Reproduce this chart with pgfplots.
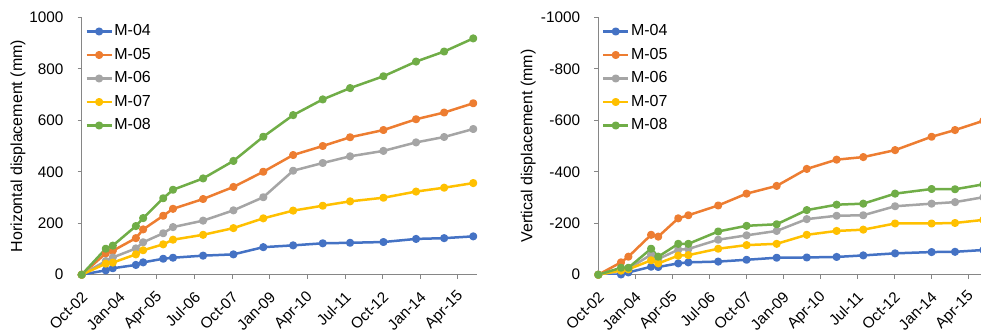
\documentclass[border=0pt]{standalone}
\usepackage{fontspec}
\setmainfont{Liberation Sans}
\usepackage{pgfplots}
\pgfplotsset{compat=1.18}
\definecolor{cA}{HTML}{4472C4}
\definecolor{cB}{HTML}{ED7D31}
\definecolor{cC}{HTML}{A5A5A5}
\definecolor{cD}{HTML}{FFC000}
\definecolor{cE}{HTML}{70AD47}
\definecolor{axgray}{HTML}{868686}
\pgfplotsset{
  xl/.style={
    scale only axis,
    axis x line=bottom, axis y line=left,
    axis line style={-, draw=axgray, line width=1pt},
    tick style={draw=axgray, line width=1pt},
    tick align=outside, major tick length=4pt,
    tick label style={font=\fontsize{15.3}{18}\selectfont},
    xmin=0, xmax=157.6,
    xtick={0,15,...,150},
    xticklabels={Oct-02,Jan-04,Apr-05,Jul-06,Oct-07,Jan-09,Apr-10,Jul-11,Oct-12,Jan-14,Apr-15},
    xticklabel style={shift={(3pt,-15.5pt)}, rotate=45, anchor=east, inner sep=0pt},
    yticklabel style={anchor=east, inner sep=0pt, xshift=-14pt},
    legend style={draw=none, fill=none, at={(axis description cs:0,1)}, anchor=north west,
      xshift=3.5pt, yshift=-6.5pt, inner xsep=0pt, inner ysep=0pt, row sep=8.5pt,
      cells={anchor=west}, nodes={inner xsep=1.5pt, inner ysep=0pt, text height=11.5pt, text depth=3.5pt}},
    legend image code/.code={\draw[##1, mark repeat=2, mark phase=2] plot coordinates {(0pt,0pt)(12.5pt,0pt)(25pt,0pt)};},
    every axis plot/.append style={line width=2.5pt, line join=round, mark=*, mark size=2.8pt, mark options={solid}},
  }
}
\begin{document}
\fontsize{16}{19}\selectfont
\begin{tikzpicture}
\useasboundingbox (0,0) rectangle (981pt,333pt);
\begin{axis}[xl,
  at={(81.7pt,58.3pt)}, anchor=south west,
  width=395.3pt, height=257.4pt,
  ymin=0, ymax=1000,
  ytick={0,200,400,600,800,1000},
  yticklabels={0,200,400,600,800,1000},
  ylabel={Horizontal displacement (mm)},
  every axis y label/.style={at={(axis description cs:-0.161,0.5)}, rotate=90, anchor=center},
]
\addplot[cA, mark options={fill=cA}] coordinates {(0,0)(9.6,17)(12.4,25)(21.6,38)(24.5,48)(32.5,62)(36.4,66)(48.4,74)(60.5,79)(72.4,107)(84.3,114)(96.1,122)(107,124)(120.3,127)(133.3,139)(144.5,142)(156.1,149)};
\addlegendentry{M-04}
\addplot[cB, mark options={fill=cB}] coordinates {(0,0)(9.6,83)(12.4,93)(21.6,142)(24.5,176)(32.5,229)(36.4,256)(48.4,294)(60.5,341)(72.4,400)(84.3,465)(96.1,500)(107,534)(120.3,562)(133.3,604)(144.5,630)(156.1,666)};
\addlegendentry{M-05}
\addplot[cC, mark options={fill=cC}] coordinates {(0,0)(9.6,53)(12.4,67)(21.6,102)(24.5,126)(32.5,161)(36.4,185)(48.4,210)(60.5,250)(72.4,301)(84.3,404)(96.1,434)(107,460)(120.3,481)(133.3,514)(144.5,535)(156.1,566)};
\addlegendentry{M-06}
\addplot[cD, mark options={fill=cD}] coordinates {(0,0)(9.6,43)(12.4,47)(21.6,79)(24.5,95)(32.5,118)(36.4,136)(48.4,155)(60.5,181)(72.4,219)(84.3,249)(96.1,268)(107,285)(120.3,299)(133.3,323)(144.5,338)(156.1,356)};
\addlegendentry{M-07}
\addplot[cE, mark options={fill=cE}] coordinates {(0,0)(9.6,101)(12.4,113)(21.6,189)(24.5,220)(32.5,297)(36.4,330)(48.4,374)(60.5,442)(72.4,536)(84.3,620)(96.1,681)(107,725)(120.3,771)(133.3,828)(144.5,867)(156.1,918)};
\addlegendentry{M-08}
\end{axis}
\begin{axis}[xl,
  at={(598.3pt,58.3pt)}, anchor=south west,
  width=388.8pt, height=257.4pt,
  y dir=reverse,
  ymin=-1000, ymax=0,
  ytick={-1000,-800,-600,-400,-200,0},
  yticklabels={-1000,-800,-600,-400,-200,0},
  ylabel={Vertical displacement (mm)},
  every axis y label/.style={at={(axis description cs:-0.180,0.5)}, rotate=90, anchor=center},
]
\addplot[cA, mark options={fill=cA}] coordinates {(0,0)(9.2,-1)(12.2,-9)(21.4,-31)(24.3,-30)(32.4,-44)(36.5,-48)(48.6,-51)(60.1,-58)(72.3,-66)(84.5,-67)(96.6,-69)(107.4,-75)(120.3,-83)(135.1,-88)(144.6,-89)(156.1,-96)};
\addlegendentry{M-04}
\addplot[cB, mark options={fill=cB}] coordinates {(0,0)(9.2,-48)(12.2,-70)(21.4,-155)(24.3,-148)(32.4,-219)(36.5,-231)(48.6,-269)(60.1,-315)(72.3,-345)(84.5,-411)(96.6,-447)(107.4,-457)(120.3,-484)(135.1,-536)(144.6,-562)(156.1,-598)};
\addlegendentry{M-05}
\addplot[cC, mark options={fill=cC}] coordinates {(0,0)(9.2,-18)(12.2,-23)(21.4,-78)(24.3,-61)(32.4,-97)(36.5,-100)(48.6,-136)(60.1,-153)(72.3,-170)(84.5,-216)(96.6,-229)(107.4,-231)(120.3,-266)(135.1,-276)(144.6,-282)(156.1,-301)};
\addlegendentry{M-06}
\addplot[cD, mark options={fill=cD}] coordinates {(0,0)(9.2,-16)(12.2,-21)(21.4,-56)(24.3,-44)(32.4,-74)(36.5,-76)(48.6,-101)(60.1,-115)(72.3,-120)(84.5,-155)(96.6,-170)(107.4,-175)(120.3,-199)(135.1,-199)(144.6,-201)(156.1,-213)};
\addlegendentry{M-07}
\addplot[cE, mark options={fill=cE}] coordinates {(0,0)(9.2,-27)(12.2,-27)(21.4,-101)(24.3,-70)(32.4,-120)(36.5,-120)(48.6,-168)(60.1,-190)(72.3,-196)(84.5,-251)(96.6,-272)(107.4,-276)(120.3,-315)(135.1,-333)(144.6,-332)(156.1,-351)};
\addlegendentry{M-08}
\end{axis}
\end{tikzpicture}
\end{document}
